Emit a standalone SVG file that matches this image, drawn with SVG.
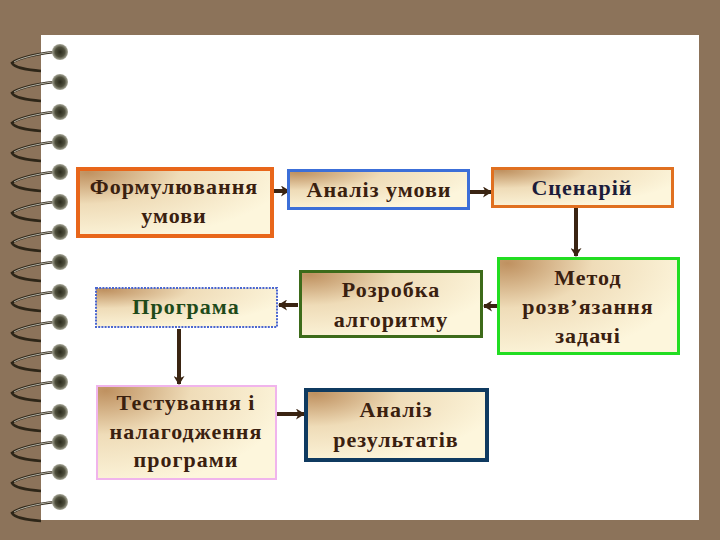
<svg xmlns="http://www.w3.org/2000/svg" xmlns:xlink="http://www.w3.org/1999/xlink" width="720" height="540" viewBox="0 0 720 540">
<defs>
<radialGradient id="fillG" cx="0" cy="0" r="1.1" fx="0.05" fy="0.05">
<stop offset="0" stop-color="#bf9160"/>
<stop offset="0.45" stop-color="#efdcb8"/>
<stop offset="1" stop-color="#fdf6dc"/>
</radialGradient>
<radialGradient id="holeG" cx="0.5" cy="0.5" r="0.5">
<stop offset="0" stop-color="#2a2a1c"/>
<stop offset="0.6" stop-color="#4e4e3c"/>
<stop offset="1" stop-color="#a8a898"/>
</radialGradient>
<marker id="arr" markerWidth="10" markerHeight="11" refX="8" refY="5.5" orient="auto" markerUnits="userSpaceOnUse">
<path d="M0,0 L9,5.5 L0,11 L2.5,5.5 Z" fill="#3a2412"/>
</marker>
<g id="ring">
<path d="M54 0 C38 2, 18 6, 12 11 C14 15, 26 18, 41 19" fill="none" stroke="#2e2618" stroke-width="2.6"/>
<path d="M52 0 C38 2, 20 6, 14 10" fill="none" stroke="#d8d8cc" stroke-width="0.8"/>
<circle cx="60" cy="0" r="8" fill="url(#holeG)"/>
</g>
</defs>
<style>
.box{fill:url(#fillG);}
.t{font-family:"Liberation Serif","Times New Roman",serif;font-weight:bold;font-size:22px;letter-spacing:1px;fill:#3a200f;text-anchor:middle;}
.con{stroke:#3a2412;stroke-width:4;fill:none;marker-end:url(#arr);}
</style>
<rect x="0" y="0" width="720" height="540" fill="#8c735a"/>
<rect x="41" y="35" width="658" height="485" fill="#ffffff"/>
<g id="spiral">
<use xlink:href="#ring" y="52"/><use xlink:href="#ring" y="82"/><use xlink:href="#ring" y="112"/><use xlink:href="#ring" y="142"/>
<use xlink:href="#ring" y="172"/><use xlink:href="#ring" y="202"/><use xlink:href="#ring" y="232"/><use xlink:href="#ring" y="262"/>
<use xlink:href="#ring" y="292"/><use xlink:href="#ring" y="322"/><use xlink:href="#ring" y="352"/><use xlink:href="#ring" y="382"/>
<use xlink:href="#ring" y="412"/><use xlink:href="#ring" y="442"/><use xlink:href="#ring" y="472"/><use xlink:href="#ring" y="502"/>
</g>
<g id="connectors">
<line class="con" x1="272" y1="191" x2="289" y2="191"/>
<line class="con" x1="470" y1="192" x2="491" y2="192"/>
<line class="con" x1="576" y1="208" x2="576" y2="256"/>
<line class="con" x1="298" y1="305" x2="279" y2="305"/>
<line class="con" x1="497" y1="306" x2="484" y2="306"/>
<line class="con" x1="179" y1="329" x2="179" y2="384"/>
<line class="con" x1="277" y1="414" x2="304" y2="414"/>
</g>
<g id="n1">
<rect class="box" x="78" y="169" width="194" height="67" stroke="#e8661a" stroke-width="4"/>
<text class="t" x="174" y="194">Формулювання</text>
<text class="t" x="174" y="223">умови</text>
</g>
<g id="n2">
<rect class="box" x="288.5" y="170.5" width="180" height="38" stroke="#3c6fd8" stroke-width="3"/>
<text class="t" x="379" y="197">Аналіз умови</text>
</g>
<g id="n3">
<rect class="box" x="492.5" y="168.5" width="180" height="38" stroke="#e07020" stroke-width="3"/>
<text class="t" x="582" y="195" style="fill:#1c1c3a">Сценарій</text>
</g>
<g id="n4">
<rect class="box" x="498.5" y="258.5" width="180" height="95" stroke="#22dd22" stroke-width="3"/>
<text class="t" x="588" y="285">Метод</text>
<text class="t" x="588" y="314">розв’язання</text>
<text class="t" x="588" y="343">задачі</text>
</g>
<g id="n5">
<rect class="box" x="300.5" y="271.5" width="181" height="65" stroke="#3d6b1a" stroke-width="3"/>
<text class="t" x="391" y="297">Розробка</text>
<text class="t" x="391" y="327">алгоритму</text>
</g>
<g id="n6">
<rect class="box" x="96" y="288" width="181" height="39" stroke="#4a66d0" stroke-width="2" stroke-dasharray="2 1.2"/>
<text class="t" x="186" y="314" style="fill:#1f4a1a">Програма</text>
</g>
<g id="n7">
<rect class="box" x="97" y="386" width="179" height="93" stroke="#f0b4ec" stroke-width="2"/>
<text class="t" x="186" y="410">Тестування і</text>
<text class="t" x="186" y="439">налагодження</text>
<text class="t" x="186" y="467">програми</text>
</g>
<g id="n8">
<rect class="box" x="306" y="390" width="181" height="70" stroke="#0f3a60" stroke-width="4"/>
<text class="t" x="396" y="417">Аналіз</text>
<text class="t" x="396" y="447">результатів</text>
</g>
</svg>
